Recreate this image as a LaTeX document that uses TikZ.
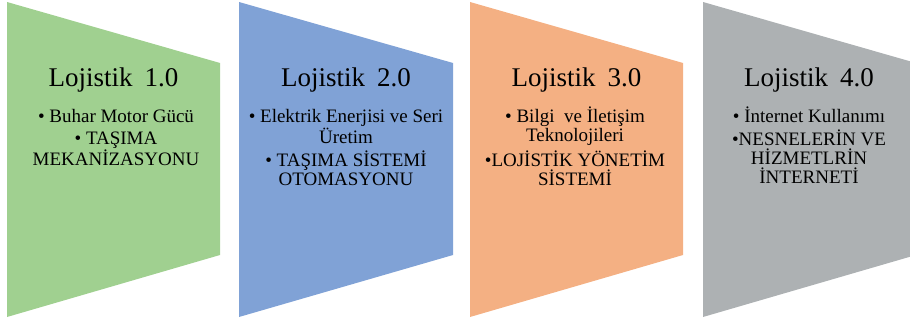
\documentclass[tikz,border=0pt]{standalone}
\usepackage{fontspec}
\setmainfont{Liberation Serif}
\newfontfamily\stagefont{Liberation Serif}
\definecolor{stageA}{RGB}{160,208,144}
\definecolor{stageB}{RGB}{128,162,214}
\definecolor{stageC}{RGB}{244,176,131}
\definecolor{stageD}{RGB}{173,177,179}
\begin{document}
\begin{tikzpicture}[x=1pt,y=-1pt,
  stagetitle/.style={font=\stagefont\fontsize{27}{30}\selectfont, anchor=base, inner sep=0pt},
  stageitems/.style={font=\stagefont\fontsize{19}{19}\selectfont, align=center, anchor=north, inner sep=0pt},
]
\useasboundingbox (0,0) rectangle (910,320);

% tapered stage panels
\fill[stageA] (7,2)   -- (220,63) -- (220,255) -- (7,317)   -- cycle;
\fill[stageB] (239,2) -- (453,63) -- (453,255) -- (239,317) -- cycle;
\fill[stageC] (470,2) -- (683,63) -- (683,255) -- (470,317) -- cycle;
\fill[stageD] (703,2) -- (916,63) -- (916,255) -- (703,317) -- cycle;

% titles
\node[stagetitle] (t1) at (113.5,87) {Lojistik\hspace{0.45em}1.0};
\node[stagetitle] (t2) at (346,87)   {Lojistik\hspace{0.45em}2.0};
\node[stagetitle] (t3) at (576.5,87) {Lojistik\hspace{0.45em}3.0};
\node[stagetitle] (t4) at (809,87)   {Lojistik\hspace{0.45em}4.0};

% bullet lists (lists opening with a dotted capital I sit a little higher)
\node[stageitems] (b1) at (116,109.5) {• Buhar Motor Gücü\\[3pt]• TAŞIMA\\MEKANİZASYONU};
\node[stageitems] (b2) at (346,109.5) {• Elektrik Enerjisi ve Seri\\Üretim\\[4pt]• TAŞIMA SİSTEMİ\\OTOMASYONU};
\node[stageitems] (b3) at (575,106.5) {• Bilgi\ \ ve İletişim\\Teknolojileri\\[4pt]•LOJİSTİK YÖNETİM\\SİSTEMİ};
\node[stageitems] (b4) at (809,106.5) {• İnternet Kullanımı\\[4pt]•NESNELERİN VE\\HİZMETLRİN\\İNTERNETİ};
\end{tikzpicture}
\end{document}
